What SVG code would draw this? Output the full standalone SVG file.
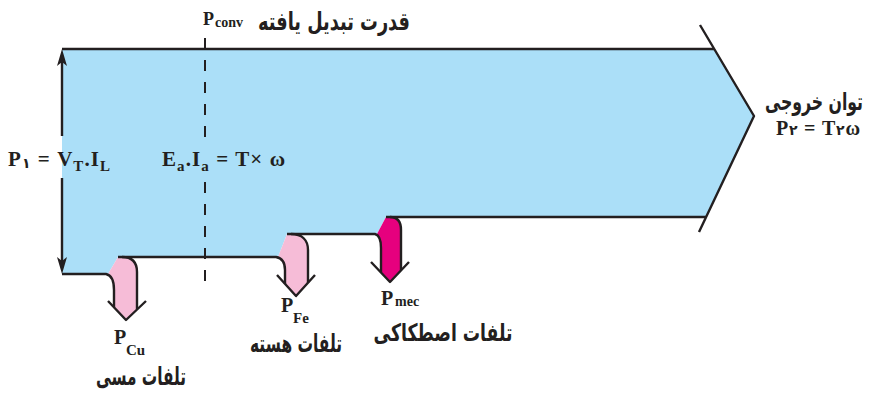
<svg xmlns="http://www.w3.org/2000/svg" width="878" height="394" viewBox="0 0 878 394">
<style>
.ln{fill:none;stroke:#231f20;stroke-width:2.4;stroke-linejoin:round}
.dash{fill:none;stroke:#231f20;stroke-width:2;stroke-dasharray:11 11}
.m{font-family:"Liberation Serif","Times New Roman",serif;font-weight:bold;fill:#231f20}
.fa{font-family:"DejaVu Sans","Noto Sans",sans-serif;font-weight:bold;fill:#231f20;text-anchor:middle}
.ah{fill:#231f20}
</style>
<rect width="878" height="394" fill="#fff"/>
<g id="flow">
<path d="M62,49 L714,49 L754,116 L706,217 L386,217 L377,234 L287,234 L278,257 L118,257 L108,274 L62,274 Z" fill="#abdff8"/>
<path class="ln" d="M62,49 L714,49"/>
<path class="ln" d="M700,25 L754,116 L699,232"/>
</g>
<g id="cu-loss">
<path d="M118,257 C132,257 137,262 137,272 L137,309 L126,320 L114,307 L114,290 C114,280 111,275 108,274 Z" fill="#f6bcd7"/>
<path class="ln" d="M62,274 L106,274 C111,275 114,280 114,290 L114,307"/>
<path class="ln" d="M122,257 C132,257 137,262 137,272 L137,309"/>
<path class="ln" d="M108,301 L126,320 L146,301"/>
<text class="m" x="114" y="344" font-size="20">P</text><text class="m" x="126" y="355" font-size="15">Cu</text>
<text class="fa" x="141" y="385" font-size="25" textLength="90" lengthAdjust="spacingAndGlyphs">تلفات مسی</text>
</g>
<g id="fe-loss">
<path d="M287,234 C302,234 308,240 308,250 L308,283 L296,296 L285,284 L285,270 C285,263 282,258 278,257 Z" fill="#f6bcd7"/>
<path class="ln" d="M118,257 L276,257 C282,258 285,263 285,270 L285,284"/>
<path class="ln" d="M291,234 C302,234 308,240 308,250 L308,283"/>
<path class="ln" d="M277,275 L296,296 L315,275"/>
<text class="m" x="281" y="312" font-size="20">P</text><text class="m" x="293" y="323" font-size="15">Fe</text>
<text class="fa" x="296" y="352" font-size="25" textLength="92" lengthAdjust="spacingAndGlyphs">تلفات هسته</text>
</g>
<g id="mec-loss">
<path d="M386,217 C397,217 401,221 401,230 L401,270 L390,282 L381,272 L381,248 C381,240 379,235 377,234 Z" fill="#e6007e"/>
<path class="ln" d="M287,234 L375,234 C379,235 381,240 381,248 L381,272"/>
<path class="ln" d="M386,217 L706,217"/>
<path class="ln" d="M390,217 C397,217 401,221 401,230 L401,270"/>
<path class="ln" d="M371,262 L390,282 L409,262"/>
<text class="m" x="381" y="305" font-size="20">P</text><text class="m" x="395" y="306" font-size="14">mec</text>
<text class="fa" x="443" y="341" font-size="24" textLength="139" lengthAdjust="spacingAndGlyphs">تلفات اصطکاکی</text>
</g>
<g id="input">
<path class="ln" d="M62,60 L62,136 M62,178 L62,263"/>
<path class="ah" d="M62,49 L57,66 L62,62 L67,66 Z"/>
<path class="ah" d="M62,274 L57,257 L62,261 L67,257 Z"/>
<text class="m" x="8" y="166" font-size="21" textLength="102">P<tspan font-size="14" dy="2" font-family="DejaVu Sans,sans-serif">۱</tspan><tspan dy="-2"> = V</tspan><tspan font-size="15" dy="5">T</tspan><tspan dy="-5">.I</tspan><tspan font-size="15" dy="5">L</tspan></text>
</g>
<g id="conv">
<path class="dash" d="M205,38 L205,138"/>
<path class="dash" d="M205,182 L205,285"/>
<text class="m" x="203" y="25" font-size="18">P</text><text class="m" x="215" y="27" font-size="14">conv</text>
<text class="fa" x="334" y="30" font-size="25" textLength="152" lengthAdjust="spacingAndGlyphs">قدرت تبدیل یافته</text>
<text class="m" x="162" y="166" font-size="21" textLength="123">E<tspan font-size="15" dy="5">a</tspan><tspan dy="-5">.I</tspan><tspan font-size="15" dy="5">a</tspan><tspan dy="-5"> = T× ω</tspan></text>
</g>
<g id="output">
<text class="fa" x="814" y="110" font-size="24" textLength="98" lengthAdjust="spacingAndGlyphs">توان خروجی</text>
<text class="m" x="776" y="135" font-size="20" textLength="84">P<tspan font-size="14" font-family="DejaVu Sans,sans-serif">۲</tspan> = T<tspan font-size="14" font-family="DejaVu Sans,sans-serif">۲</tspan>ω</text>
</g>
</svg>
